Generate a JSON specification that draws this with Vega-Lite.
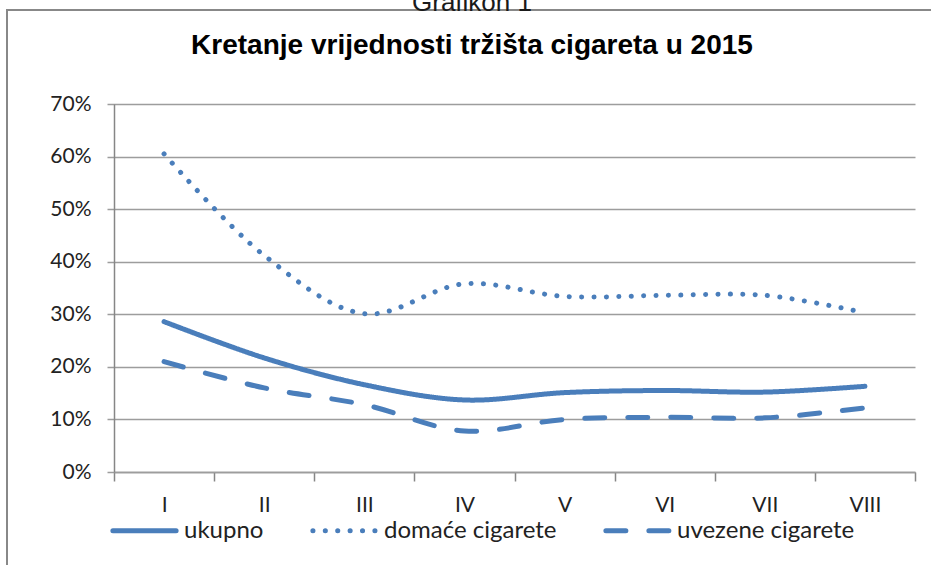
{
  "$schema": "https://vega.github.io/schema/vega-lite/v6.json",
  "autosize": "none",
  "width": 930,
  "height": 560,
  "padding": {"left": 7, "top": 10, "right": 0, "bottom": 0},
  "background": "white",
  "config": {"view": {"stroke": "#888888", "strokeWidth": 2}},
  "title": {
    "text": "Grafikon 1",
    "subtitle": "Kretanje vrijednosti tržišta cigareta u 2015",
    "anchor": "middle",
    "frame": "group",
    "offset": -50,
    "font": "Liberation Sans",
    "fontSize": 26,
    "fontWeight": "normal",
    "color": "#1a1a1a",
    "subtitleFont": "Liberation Sans",
    "subtitleFontSize": 28,
    "subtitleFontWeight": "bold",
    "subtitleColor": "#000000",
    "subtitlePadding": 16
  },
  "data": {
    "values": [
      {"mjesec": "I", "serija": "ukupno", "vrijednost": 0.286},
      {"mjesec": "II", "serija": "ukupno", "vrijednost": 0.217},
      {"mjesec": "III", "serija": "ukupno", "vrijednost": 0.166},
      {"mjesec": "IV", "serija": "ukupno", "vrijednost": 0.137},
      {"mjesec": "V", "serija": "ukupno", "vrijednost": 0.151},
      {"mjesec": "VI", "serija": "ukupno", "vrijednost": 0.155},
      {"mjesec": "VII", "serija": "ukupno", "vrijednost": 0.152},
      {"mjesec": "VIII", "serija": "ukupno", "vrijednost": 0.163},
      {"mjesec": "I", "serija": "domaće cigarete", "vrijednost": 0.605},
      {"mjesec": "II", "serija": "domaće cigarete", "vrijednost": 0.412},
      {"mjesec": "III", "serija": "domaće cigarete", "vrijednost": 0.301},
      {"mjesec": "IV", "serija": "domaće cigarete", "vrijednost": 0.358},
      {"mjesec": "V", "serija": "domaće cigarete", "vrijednost": 0.334},
      {"mjesec": "VI", "serija": "domaće cigarete", "vrijednost": 0.336},
      {"mjesec": "VII", "serija": "domaće cigarete", "vrijednost": 0.336},
      {"mjesec": "VIII", "serija": "domaće cigarete", "vrijednost": 0.303},
      {"mjesec": "I", "serija": "uvezene cigarete", "vrijednost": 0.210},
      {"mjesec": "II", "serija": "uvezene cigarete", "vrijednost": 0.160},
      {"mjesec": "III", "serija": "uvezene cigarete", "vrijednost": 0.128},
      {"mjesec": "IV", "serija": "uvezene cigarete", "vrijednost": 0.078},
      {"mjesec": "V", "serija": "uvezene cigarete", "vrijednost": 0.100},
      {"mjesec": "VI", "serija": "uvezene cigarete", "vrijednost": 0.104},
      {"mjesec": "VII", "serija": "uvezene cigarete", "vrijednost": 0.103},
      {"mjesec": "VIII", "serija": "uvezene cigarete", "vrijednost": 0.122}
    ]
  },
  "resolve": {"axis": {"y": "independent"}},
  "layer": [
    {
      "mark": {"type": "point", "opacity": 0},
      "encoding": {
        "y": {
          "field": "vrijednost",
          "type": "quantitative",
          "scale": {"domain": [0, 0.7], "range": [462, 94], "nice": false, "zero": true},
          "axis": {
            "orient": "left",
            "offset": -100,
            "domain": false,
            "labels": false,
            "grid": false,
            "ticks": true,
            "tickSize": -808,
            "tickColor": "#9d9d9d",
            "tickWidth": 1.3,
            "values": [0, 0.1, 0.2, 0.3, 0.4, 0.5, 0.6, 0.7],
            "title": null
          }
        }
      }
    },
    {
      "mark": {"type": "line", "color": "#4A7EBB", "strokeWidth": 5, "strokeCap": "round", "interpolate": "catmull-rom"},
      "encoding": {
        "x": {
          "field": "mjesec",
          "type": "ordinal",
          "sort": ["I", "II", "III", "IV", "V", "VI", "VII", "VIII"],
          "scale": {"type": "band", "range": [107, 908], "paddingInner": 0, "paddingOuter": 0},
          "axis": {
            "orient": "bottom",
            "offset": -98,
            "domainColor": "#868686",
            "domainWidth": 1.5,
            "tickColor": "#868686",
            "tickWidth": 1.5,
            "tickSize": 9,
            "tickBand": "extent",
            "labelPadding": 13,
            "labelAngle": 0,
            "labelFont": "Lato",
            "labelFontSize": 21,
            "labelColor": "#222222",
            "grid": false,
            "title": null
          }
        },
        "y": {
          "field": "vrijednost",
          "type": "quantitative",
          "axis": {
            "orient": "left",
            "offset": -107,
            "domain": true,
            "domainColor": "#868686",
            "domainWidth": 1.5,
            "ticks": false,
            "grid": false,
            "labelPadding": 23,
            "format": ".0%",
            "values": [0, 0.1, 0.2, 0.3, 0.4, 0.5, 0.6, 0.7],
            "labelFont": "Lato",
            "labelFontSize": 21,
            "labelColor": "#222222",
            "title": null
          }
        },
        "strokeDash": {
          "field": "serija",
          "type": "nominal",
          "scale": {
            "domain": ["ukupno", "domaće cigarete", "uvezene cigarete"],
            "range": [[1, 0], [0.1, 12.3], [20, 23]]
          },
          "legend": {
            "orient": "none",
            "legendX": 103,
            "legendY": 486,
            "direction": "horizontal",
            "columns": 3,
            "title": null,
            "symbolType": "stroke",
            "symbolSize": 4000,
            "symbolStrokeWidth": 5,
            "symbolStrokeColor": "#4A7EBB",
            "labelFont": "Lato",
            "labelFontSize": 24,
            "labelColor": "#222222",
            "labelOffset": 5,
            "labelLimit": 400,
            "columnPadding": 38,
            "encode": {"symbols": {"update": {"strokeCap": {"value": "round"}}}}
          }
        }
      }
    }
  ]
}
